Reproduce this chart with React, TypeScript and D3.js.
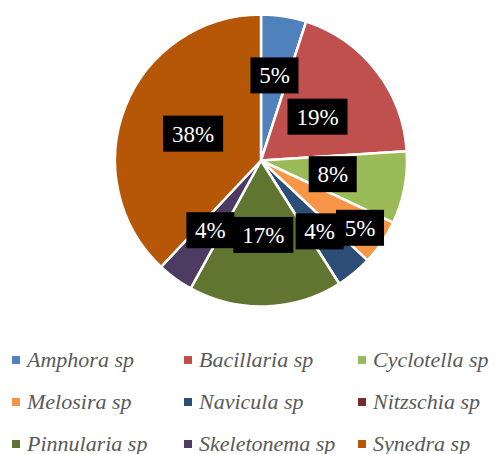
import React from "react";
import * as d3 from "d3";

const categories = ["Amphora sp", "Bacillaria sp", "Cyclotella sp", "Melosira sp", "Navicula sp", "Nitzschia sp", "Pinnularia sp", "Skeletonema sp", "Synedra sp"];
const values = [5, 19, 8, 5, 4, 0, 17, 4, 38];
const colors = ["#4F81BD", "#C0504D", "#9BBB59", "#F79646", "#2C4D75", "#772C2A", "#5F7530", "#4D3B62", "#B65708"];
// label placement (fraction of radius) to mimic best-fit label layout
const labelRadiusFactor = [0.59, 0.49, 0.5, 0.82, 0.63, 0.5, 0.51, 0.59, 0.5];

const W = 500, H = 454;
const cx = 261, cy = 160.5, R = 146;
const SERIF = "Liberation Serif";

export default function App() {
  const total = d3.sum(values);
  const pie = d3.pie<number>().sort(null).value((d) => d);
  const arcs = pie(values);
  const arc = d3.arc<d3.PieArcDatum<number>>().innerRadius(0).outerRadius(R);
  const fmt = (v: number) => `${Math.round((v / total) * 100)}%`;

  const legendCols = [12, 184, 358];
  const legendRows = [360, 402, 444];

  return (
    <svg width={W} height={H} style={{ position: "absolute", left: 0, top: 0, background: "#fff" }}>
      <g transform={`translate(${cx},${cy})`}>
        {arcs.map((a, i) => (
          <path key={i} d={arc(a) || ""} fill={colors[i]} stroke="#fff" strokeWidth={2.5} strokeLinejoin="round" />
        ))}
        {arcs.map((a, i) => {
          if (values[i] === 0) return null;
          const mid = (a.startAngle + a.endAngle) / 2;
          const r = R * labelRadiusFactor[i];
          const x = Math.sin(mid) * r;
          const y = -Math.cos(mid) * r;
          const t = fmt(values[i]);
          const w = t.length === 2 ? 48 : 60;
          return (
            <g key={"l" + i} transform={`translate(${x},${y})`}>
              <rect x={-w / 2} y={-18} width={w} height={36} fill="#000" />
              <text x={0} y={8} textAnchor="middle" fill="#fff" fontFamily={SERIF} fontSize={23}>{t}</text>
            </g>
          );
        })}
      </g>
      {categories.map((c, i) => {
        const col = i % 3, row = Math.floor(i / 3);
        const x = legendCols[col], y = legendRows[row];
        return (
          <g key={"lg" + i}>
            <rect x={x} y={y - 4} width={8} height={8} fill={colors[i]} />
            <text x={x + 15} y={y + 7} fill="#595959" fontFamily={SERIF} fontStyle="italic" fontSize={22}>{c}</text>
          </g>
        );
      })}
    </svg>
  );
}
